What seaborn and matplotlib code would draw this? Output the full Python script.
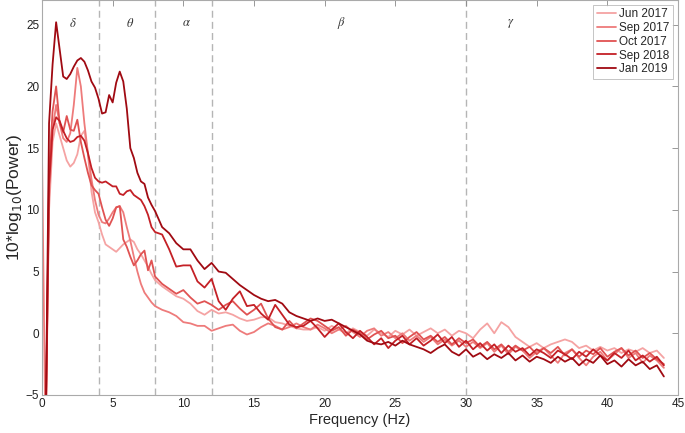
import numpy as np
import pandas as pd
import matplotlib
matplotlib.use("Agg")
import matplotlib.pyplot as plt
import seaborn as sns

# ==========================================
# Data
# ==========================================
freq = np.concatenate([np.arange(0, 8.01, 0.25), np.arange(8.5, 44.01, 0.5)])

sessions = ["Jun 2017", "Sep 2017", "Oct 2017", "Sep 2018", "Jan 2019"]
colors = ["#f5a3a3", "#ee7b7b", "#e05252", "#c42026", "#a00a12"]

jun_2017 = [
    -9, -9, 10.0, 15.5, 17.0, 16.0, 15.0, 14.0, 13.5, 13.8, 14.5, 16.0, 16.4, 14.5, 11.5, 9.8,
    9.0, 8.0, 7.2, 7.0, 6.8, 6.6, 6.9, 7.2, 7.4, 7.6, 7.4, 6.8, 6.4, 5.9, 5.4, 4.8, 4.3,
    3.8, 3.4, 3.0, 2.8, 2.4, 1.8, 1.5, 1.9, 1.6, 1.7, 1.5, 1.2, 1.0, 1.1, 1.3, 1.3, 0.9, 0.8,
    0.6, 0.4, 0.3, 0.3, 0.5, 0.2, 0.6, 0.3, 0.0, 0.4, 0.1, -0.2, 0.3, 0.0, -0.3, 0.2, -0.1,
    0.3, -0.2, 0.1, 0.4, 0.0, 0.3, -0.2, 0.2, 0.0, -0.4, 0.3, 0.8, 0.0, 0.9, 0.5, -0.3, -0.7,
    -1.1, -0.8, -1.2, -0.9, -0.7, -0.5, -0.7, -1.2, -1.0, -1.4, -1.1, -1.4, -1.2, -1.6, -1.3,
    -1.5, -1.2, -1.6, -1.4, -2.0,
]
sep_2017 = [
    14.5, -9, 11.0, 16.5, 18.5, 17.0, 15.8, 15.5, 16.2, 18.5, 21.5, 20.0, 17.0, 14.6, 12.5, 10.8,
    9.6, 9.0, 8.9, 9.3, 9.8, 10.2, 10.3, 9.8, 8.6, 7.5, 6.2, 5.0, 4.0, 3.3, 2.9, 2.5, 2.2,
    1.9, 1.7, 1.4, 0.9, 0.8, 0.6, 0.6, 0.2, 0.4, 0.6, 0.7, 0.2, -0.1, 0.1, 0.5, 0.8, 0.6, 0.3,
    0.5, 0.8, 0.5, 0.3, 0.7, 0.4, 0.0, 0.3, 0.6, 0.1, -0.3, 0.2, 0.4, -0.2, 0.1, -0.4, 0.0,
    -0.6, -0.2, -0.7, -0.3, -0.9, -0.5, -1.0, -0.6, -1.1, -0.7, -1.2, -0.8, -1.5, -1.0, -1.7,
    -1.1, -1.4, -2.0, -1.5, -1.2, -1.8, -2.4, -1.6, -1.3, -2.0, -2.6, -1.9, -1.5, -2.2, -1.7,
    -1.2, -2.0, -1.6, -2.4, -1.8, -2.2, -2.8,
]
oct_2017 = [
    -9, -9, 13.0, 18.0, 20.0, 17.0, 16.3, 17.6, 16.5, 16.4, 17.3, 15.5, 14.2, 13.0, 12.0, 11.6,
    11.3, 10.2, 9.2, 8.7, 9.3, 10.2, 10.3, 7.6, 7.0, 6.2, 5.5, 5.9, 6.4, 6.7, 5.1, 5.9, 4.6,
    4.0, 3.6, 3.2, 3.5, 2.9, 2.4, 2.6, 2.3, 1.9, 2.3, 2.6, 2.0, 1.5, 1.9, 2.4, 1.2, 0.5, 0.3,
    1.0, 0.4, 0.8, 1.2, 1.0, 0.6, 0.2, 0.5, -0.2, 0.3, 0.0, -0.5, -0.1, 0.2, -0.4, -0.2, -0.8,
    -0.3, 0.1, -0.5, -0.2, -0.7, -0.3, -0.9, -0.4, -0.8, -0.5, -1.1, -0.7, -1.3, -0.9, -1.5,
    -1.0, -1.4, -1.1, -1.7, -1.2, -1.6, -1.1, -1.8, -1.3, -1.9, -1.4, -1.7, -1.2, -1.9, -1.5,
    -1.2, -1.8, -1.4, -2.0, -1.6, -2.1, -2.5,
]
sep_2018 = [
    -9, -9, 12.0, 16.5, 17.5, 17.2, 16.4, 15.8, 15.5, 15.6, 15.9, 16.0, 15.6, 14.6, 13.4, 12.6,
    12.3, 12.2, 12.3, 12.1, 11.9, 11.9, 11.3, 11.2, 11.5, 11.6, 11.2, 11.0, 10.8, 10.3, 9.6, 8.6, 8.2,
    8.0, 6.8, 5.4, 5.5, 5.5, 4.2, 3.7, 4.4, 2.6, 1.9, 2.8, 3.4, 2.2, 2.3, 1.6, 1.1, 2.3, 1.5,
    0.7, 0.5, 0.6, 1.0, 0.4, -0.3, 0.3, 0.8, 0.1, -0.4, 0.2, -0.3, -0.9, -0.4, -1.2, -0.6, -0.2,
    -0.9, -0.4, -1.0, -0.6, -0.1, -0.8, -0.3, -1.1, -0.6, -1.3, -0.8, -1.4, -0.9, -1.6, -1.0,
    -1.5, -1.2, -1.8, -1.3, -1.6, -2.0, -1.4, -1.7, -2.1, -1.5, -1.9, -1.3, -1.8, -2.2, -1.6,
    -2.0, -1.4, -2.2, -1.8, -2.3, -1.9, -2.6,
]
jan_2019 = [
    -9, -9, 17.0, 21.8, 25.2, 23.0, 20.8, 20.6, 21.0, 21.6, 22.1, 22.3, 22.0, 21.3, 20.4, 19.9,
    19.0, 17.8, 17.9, 19.3, 18.7, 20.3, 21.2, 20.4, 18.2, 15.0, 14.2, 13.0, 12.3, 12.1, 11.0, 10.4, 9.9,
    8.6, 8.1, 7.3, 6.8, 6.8, 5.9, 5.2, 5.7, 5.0, 4.9, 4.4, 3.9, 3.5, 3.1, 2.8, 2.6, 2.7, 2.4,
    1.7, 1.4, 1.2, 1.0, 1.2, 1.0, 1.1, 0.8, 0.5, 0.2, -0.1, -0.6, -0.8, -0.9, -0.7, -1.0, -0.6,
    -0.9, -1.1, -1.3, -1.6, -1.2, -0.9, -1.5, -1.8, -1.3, -1.9, -1.6, -2.1, -1.7, -2.0, -1.6,
    -2.2, -1.8, -2.3, -1.9, -2.1, -2.4, -1.9, -2.3, -2.0, -2.6, -2.1, -2.4, -1.8, -2.5, -2.2,
    -2.7, -2.1, -2.6, -2.3, -2.9, -2.6, -3.5,
]

bands = [4, 8, 12, 30]
band_names = ["$\\delta$", "$\\theta$", "$\\alpha$", "$\\beta$", "$\\gamma$"]
band_label_x = [2.2, 6.2, 10.2, 21.2, 33.2]

series = [jun_2017, sep_2017, oct_2017, sep_2018, jan_2019]
df = pd.concat(
    [pd.DataFrame({"freq": freq, "power": vals, "session": name})
     for name, vals in zip(sessions, series)],
    ignore_index=True,
)

# ==========================================
# Plot
# ==========================================
sns.set_style("white")
plt.rcParams["font.family"] = ["Liberation Sans", "DejaVu Sans"]

fig = plt.figure(figsize=(6.85, 4.33), dpi=100)
ax = fig.add_axes([0.0613, 0.0878, 0.9285, 0.9122])

for b in bands:
    ax.axvline(b, color="#b5b5b5", linestyle=(0, (5, 3)), linewidth=1.0, zorder=0)

sns.lineplot(data=df, x="freq", y="power", hue="session", hue_order=sessions,
             palette=colors, estimator=None, sort=False, linewidth=1.3, ax=ax)

for name, xpos in zip(band_names, band_label_x):
    ax.text(xpos, 25.1, name, ha="center", va="center", fontsize=9,
            math_fontfamily="stix", color="#333333")

ax.set_xlim(0, 45)
ax.set_ylim(-5, 27)
ax.set_xticks(range(0, 46, 5))
ax.set_yticks(range(-5, 26, 5))
ax.tick_params(direction="in", top=True, right=True, length=4, width=0.6,
               color="#888888", labelsize=8.5, labelcolor="#222222", pad=2)
for s in ax.spines.values():
    s.set_color("#aaaaaa")
    s.set_linewidth(0.8)

ax.set_xlabel("Frequency (Hz)", fontsize=10.5, labelpad=2)
ax.set_ylabel("10*log$_{10}$(Power)", fontsize=12.5, labelpad=1)

leg = ax.legend(loc="upper right", fontsize=8.5, frameon=True, fancybox=False,
                handlelength=1.6, handletextpad=0.3, borderpad=0.3,
                labelspacing=0.15, borderaxespad=0.4)
leg.get_frame().set_edgecolor("#aaaaaa")
leg.get_frame().set_linewidth(0.6)

fig.savefig("out.png", dpi=100)
